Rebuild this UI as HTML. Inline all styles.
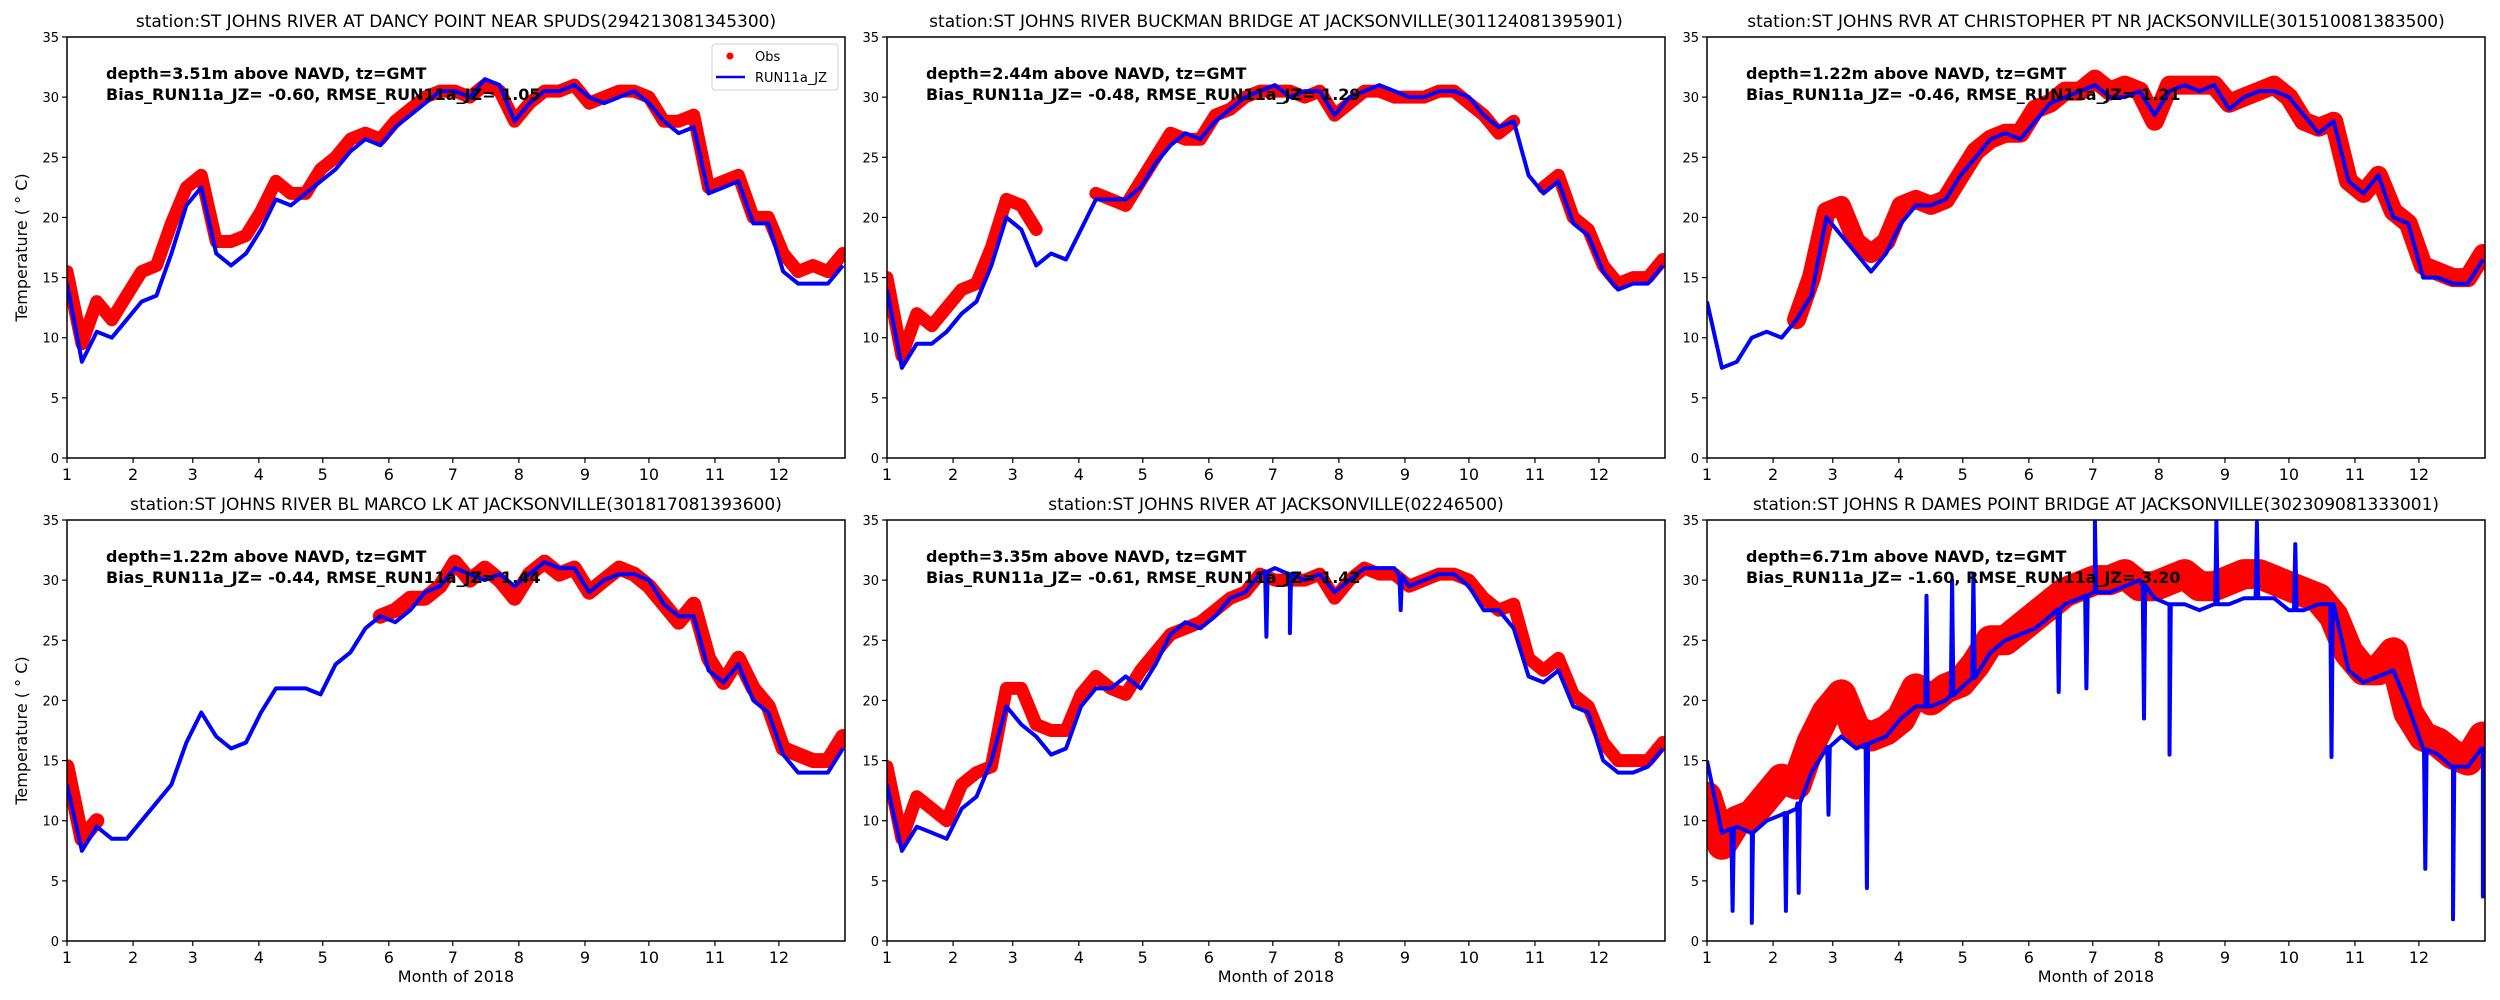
<!DOCTYPE html>
<html><head><meta charset="utf-8"><style>
html,body{margin:0;padding:0;background:#fff;}
svg{display:block;font-family:"DejaVu Sans","Liberation Sans",sans-serif;}
</style></head><body>
<svg id="fig" width="2500" height="1000" viewBox="0 0 2500 1000"></svg>
<script>
const days=[0,7,14,21,28,35,42,49,56,63,70,77,84,91,98,105,112,119,126,133,140,147,154,161,168,175,182,189,196,203,210,217,224,231,238,245,252,259,266,273,280,287,294,301,308,315,322,329,336,343,350,357,364];
const monthTickDays=[0,31,59,90,120,151,181,212,243,273,304,334];
const monthTickLabels=["1","2","3","4","5","6","7","8","9","10","11","12"];
const yTickValues=[0,5,10,15,20,25,30,35];
const stationTitles=["station:ST JOHNS RIVER AT DANCY POINT NEAR SPUDS(294213081345300)","station:ST JOHNS RIVER BUCKMAN BRIDGE AT JACKSONVILLE(301124081395901)","station:ST JOHNS RVR AT CHRISTOPHER PT NR JACKSONVILLE(301510081383500)","station:ST JOHNS RIVER BL MARCO LK AT JACKSONVILLE(301817081393600)","station:ST JOHNS RIVER AT JACKSONVILLE(02246500)","station:ST JOHNS R DAMES POINT BRIDGE AT JACKSONVILLE(302309081333001)"];
const depthNotes=["depth=3.51m above NAVD, tz=GMT","depth=2.44m above NAVD, tz=GMT","depth=1.22m above NAVD, tz=GMT","depth=1.22m above NAVD, tz=GMT","depth=3.35m above NAVD, tz=GMT","depth=6.71m above NAVD, tz=GMT"];
const statNotes=["Bias_RUN11a_JZ= -0.60, RMSE_RUN11a_JZ=  1.05","Bias_RUN11a_JZ= -0.48, RMSE_RUN11a_JZ=  1.29","Bias_RUN11a_JZ= -0.46, RMSE_RUN11a_JZ=  1.21","Bias_RUN11a_JZ= -0.44, RMSE_RUN11a_JZ=  1.44","Bias_RUN11a_JZ= -0.61, RMSE_RUN11a_JZ=  1.42","Bias_RUN11a_JZ= -1.60, RMSE_RUN11a_JZ=  3.20"];

const obs1=[15.5,9.5,13,11.5,13.5,15.5,16,19.5,22.5,23.5,18,18,18.5,20.5,23,22,22,24,25,26.5,27,26.5,28,29,30,30.5,30.5,30,31,30.5,28,29.5,30.5,30.5,31,29.5,30,30.5,30.5,30,28,28,28.5,22.5,23,23.5,20,20,17,15.5,16,15.5,17];
const mod1=[14.5,8,10.5,10,11.5,13,13.5,17,21,22.5,17,16,17,19,21.5,21,22,23,24,25.5,26.5,26,27.5,28.5,29.5,30.5,30.5,30,31.5,31,28,29.5,30.5,30.5,31,30,29.5,30,30.5,29.5,28,27,27.5,22,22.5,23,19.5,19.5,15.5,14.5,14.5,14.5,16];
const obs2=[15,8.5,12,11,12.5,14,14.5,17.5,21.5,21,19,null,null,null,22,21.5,21,23,25,27,26.5,26.5,28.5,29,30,30.5,30.5,30.5,30,30.5,28.5,29.5,30.5,30.5,30,30,30,30.5,30.5,29.5,28.5,27,28,null,22.5,23.5,20,19,16,14.5,15,15,16.5];
const mod2=[14,7.5,9.5,9.5,10.5,12,13,16,20,19,16,17,16.5,19,21.5,21.5,21.5,22.5,24.5,26,27,26.5,28,29,30,30.5,31,30,30.5,30.5,28.5,30,30.5,31,30.5,30,30,30.5,30.5,30,28.5,27.5,28,23.5,22,23,19.5,18.5,15.5,14,14.5,14.5,16];
const obs3=[null,null,null,null,null,null,11.5,15,20.5,21,18,17,18,21,21.5,21,21.5,23.5,25.5,26.5,27,27,29,29.5,30.5,30.5,31.5,30.5,31,30.5,28,31,31,31,31,29.5,30,30.5,31,30,28,27.5,28,23,22,23.5,20.5,19.5,16,15.5,15,15,17];
const mod3=[13,7.5,8,10,10.5,10,11.5,13.5,20,18.5,17,15.5,17,19.5,21,21,21.5,23.5,25,26.5,27,26.5,28,29.5,30,30.5,31,30,30,30.5,28.5,30.5,31,30.5,31,29,30,30.5,30.5,30,28.5,27,28,23,22,23.5,20,19.5,15,15,14.5,14.5,16.5];
const obs4=[14.5,8.5,10,null,null,null,null,null,null,null,null,null,null,null,null,null,null,null,null,null,null,27,27.5,28.5,28.5,29.5,31.5,30,31,30,28.5,30.5,31.5,30.5,31,29,30,31,30.5,29.5,28,26.5,28,23.5,21.5,23.5,21,19.5,16,15.5,15,15,17];
const mod4=[13,7.5,9.5,8.5,8.5,10,11.5,13,16.5,19,17,16,16.5,19,21,21,21,20.5,23,24,26,27,26.5,27.5,29,29.5,31,30.5,30,30.5,29.5,30.5,31.5,31,31,29,30,30.5,30.5,30,28,27,27,22.5,21.5,23,20,19,15.5,14,14,14,16];
const obs5=[14.5,8.5,12,11,10,13,14,14.5,21,21,18,17.5,17.5,20.5,22,21,20.5,22.5,24,25.5,26,26.5,27.5,28.5,29,30.5,30,30,30,30.5,28.5,30,31,30.5,30.5,29.5,30,30.5,30.5,30,28.5,27.5,28,23.5,22.5,23.5,20.5,19.5,16.5,15,15,15,16.5];
const mod5=[13,7.5,9.5,9,8.5,11,12,15,19.5,18,17,15.5,16,19.5,21,21,22,21,23,25.5,26.5,26,27,28.5,29,30.5,31,30.5,30,30.5,29,30,31,31,31,29.5,30,30.5,30.5,29.5,27.5,27.5,26,22,21.5,22.5,19.5,19,15,14,14,14.5,16];
const obs6=[12,8,10,10.5,12,13.5,13,16.5,19,20.5,17.5,17,17.5,18.5,21,20,21,21.5,23,25,25,26,27,28,29,29.5,30,30,30.5,29.5,29.5,30,30.5,29.5,29.5,30,30.5,30.5,30,29.5,29,28.5,27,24,22.5,22.5,24,19,17,16.5,15.5,15,17];
const mod6=[15,9,9.5,9,10,10.5,11,14,16,17,16,16.5,17,18.5,19.5,19.5,20,21,22,24,25,25.5,26,27,28,28.5,29,29,29.5,30,28.5,28,28,27.5,28,28,28.5,28.5,28.5,27.5,27.5,28,28,22.5,21.5,22,22.5,19.5,16,15.5,14.5,14.5,16];
const spikeDays5=[178,189,241];
const spikeVals5=[25.3,25.6,27.5];
const spikeDays6=[12,21,37,43,57,75,103,115,125,165,178,182,205,217,239,258,276,293,337,350,364];
const spikeVals6=[2.5,1.5,2.5,4,10.5,4.4,28.7,30,30.5,20.7,21,35,18.5,15.5,35,34.8,33,15.3,6,1.8,3.7];

const obsSeries=[obs1,obs2,obs3,obs4,obs5,obs6];
const modSeries=[mod1,mod2,mod3,mod4,mod5,mod6];
const spikeDaySeries=[[],[],[],[],spikeDays5,spikeDays6];
const spikeValSeries=[[],[],[],[],spikeVals5,spikeVals6];
const obsWidth=[13,13,19,15,13,30];

const NS="http://www.w3.org/2000/svg";
const svg=document.getElementById('fig');
function mk(tag,attrs,parent){const e=document.createElementNS(NS,tag);for(const k in attrs)e.setAttribute(k,attrs[k]);(parent||svg).appendChild(e);return e;}
const lefts=[67,887,1707], tops=[37,520], PW=778, PH=421, XMAX=365, YMAX=35;

for(let p=0;p<6;p++){
  const L=lefts[p%3], T=tops[Math.floor(p/3)];
  const xs=d=>L+d/XMAX*PW, ys=v=>T+PH-v/YMAX*PH;
  const g=mk('g',{});
  
  
  const clipId='clip'+p;
  const cp=mk('clipPath',{id:clipId},g);mk('rect',{x:L,y:T,width:PW,height:PH},cp);
  const plot=mk('g',{'clip-path':'url(#'+clipId+')'},g);
  // obs band
  const obs=obsSeries[p];
  let segs=[],cur=[];
  for(let i=0;i<days.length;i++){if(obs[i]===null){if(cur.length)segs.push(cur);cur=[];}else cur.push(xs(days[i]).toFixed(1)+','+ys(obs[i]).toFixed(1));}
  if(cur.length)segs.push(cur);
  segs.forEach(s=>{const pl=mk('polyline',{points:s.join(' '),fill:'none',stroke:'#ff0000','stroke-width':obsWidth[p],'stroke-linejoin':'round','stroke-linecap':'round'},plot);
    
    });
  // model line with spikes
  const mod=modSeries[p];
  const pts=days.map((d,i)=>({d:d,v:mod[i]}));
  const sd=spikeDaySeries[p], sv=spikeValSeries[p];
  for(let k=0;k<sd.length;k++){
    let j=0;while(j<days.length-1&&days[j+1]<sd[k])j++;
    const base=mod[j]+(mod[Math.min(j+1,days.length-1)]-mod[j])*((sd[k]-days[j])/7);
    pts.push({d:sd[k]-0.6,v:base},{d:sd[k],v:sv[k]},{d:sd[k]+0.6,v:base});
  }
  pts.sort((a,b)=>a.d-b.d);
  const ml=mk('polyline',{points:pts.map(q=>xs(q.d).toFixed(1)+','+ys(q.v).toFixed(1)).join(' '),fill:'none',stroke:'#0000ff','stroke-width':4,'stroke-linejoin':'round'},plot);
  
  
  // frame
  const fr=mk('rect',{x:L,y:T,width:PW,height:PH,fill:'none',stroke:'#000','stroke-width':1.5},g);
  
  
  // y ticks
  yTickValues.forEach(v=>{const y=ys(v);mk('line',{x1:L-5,x2:L,y1:y,y2:y,stroke:'#000','stroke-width':1.2},g);
    const t=mk('text',{x:L-8,y:y+5,'text-anchor':'end','font-size':13},g);t.textContent=v;
    
    });
  // x ticks
  monthTickDays.forEach((d,i)=>{const x=xs(d);mk('line',{x1:x,x2:x,y1:T+PH,y2:T+PH+5,stroke:'#000','stroke-width':1.2},g);
    const t=mk('text',{x:x,y:T+PH+22,'text-anchor':'middle','font-size':16},g);t.textContent=monthTickLabels[i];
    
    });
  // title
  const tt=mk('text',{x:L+PW/2,y:T-10,'text-anchor':'middle','font-size':17},g);tt.textContent=stationTitles[p];
  
  
  const a1=mk('text',{x:L+39,y:T+42,'font-size':16,'font-weight':'bold'},g);a1.textContent=depthNotes[p];
  
  
  const a2=mk('text',{x:L+39,y:T+63,'font-size':16,'font-weight':'bold'},g);a2.textContent=statNotes[p];
  
  
  if(p%3===0){const yl=mk('text',{x:0,y:0,'text-anchor':'middle','font-size':16,transform:'translate(27,'+(T+PH/2)+') rotate(-90)'},g);yl.textContent='Temperature ( \u00b0 C)';
    
    }
  if(p>=3){const xl=mk('text',{x:L+PW/2,y:982,'text-anchor':'middle','font-size':16},g);xl.textContent='Month of 2018';
    
    }
}
// legend
const lg=mk('g',{});


mk('rect',{x:712,y:44,width:126,height:46,rx:3,fill:'#fff',stroke:'#d0d0d0','stroke-width':1},lg);
mk('circle',{cx:730,cy:56,r:3.5,fill:'#ff0000'},lg);
const lt1=mk('text',{x:755,y:61,'font-size':13},lg);lt1.textContent='Obs';


mk('line',{x1:716,x2:745,y1:77,y2:77,stroke:'#0000ff','stroke-width':2.5},lg);
const lt2=mk('text',{x:755,y:82,'font-size':13},lg);lt2.textContent='RUN11a_JZ';


</script>
</body></html>
